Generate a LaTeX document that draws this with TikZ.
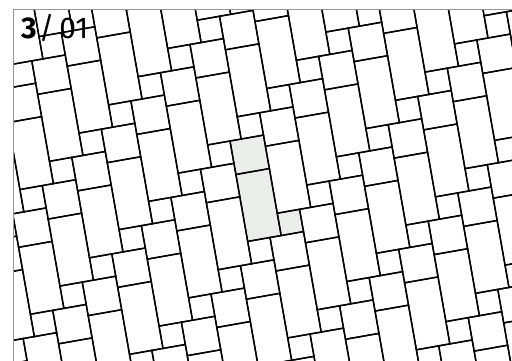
\documentclass[tikz,border=0pt]{standalone}
\usepackage{fontspec}
\setmainfont{Fira Sans}
\definecolor{cellfill}{RGB}{235,237,235}
\definecolor{framegray}{RGB}{150,150,150}
\tikzset{
  tile/.style={draw=black, line width=1.4pt, line join=miter},
  cell/.style={fill=cellfill}
}
\newcommand{\sm}{0.6667}
% box from (x1,y1) to (x2,y2) in the tilted frame
\newcommand{\tbox}[4]{(#1,#2) -- (#3,#2) -- (#3,#4) -- (#1,#4) -- cycle}
\begin{document}
\begin{tikzpicture}[x=1pt, y=-1pt]
	\useasboundingbox (0,0) rectangle (512,360);
	\begin{scope}
		\clip (13,9) rectangle (513,361);
		\begin{scope}[shift={(230,141)}, x={(33.48pt,5.90pt)}, y={(5.90pt,-33.48pt)}]
			% highlighted cell
			\fill[cell] \tbox{0}{0}{1}{3};
			\fill[cell] \tbox{1}{3-\sm}{1+\sm}{3};
			\foreach \i in {-10,...,10}{
				\foreach \j in {-4,...,5}{
					\begin{scope}[shift={(\i+\sm*\j,-\sm*\i+3*\j)}]
						\draw[tile] \tbox{0}{0}{1}{1};
						\draw[tile] \tbox{0}{1}{1}{3};
						\draw[tile] \tbox{1}{3-\sm}{1+\sm}{3};
					\end{scope}
				}
			}
		\end{scope}
	\end{scope}
	\draw[framegray, line width=1pt] (13,370) -- (13,9) -- (520,9);
	\node[anchor=base west, inner sep=0pt, font=\fontsize{30}{30}\selectfont] (label) at (21,38.7) {\textbf{3}\kern2pt/\kern5pt01};
\end{tikzpicture}
\end{document}
